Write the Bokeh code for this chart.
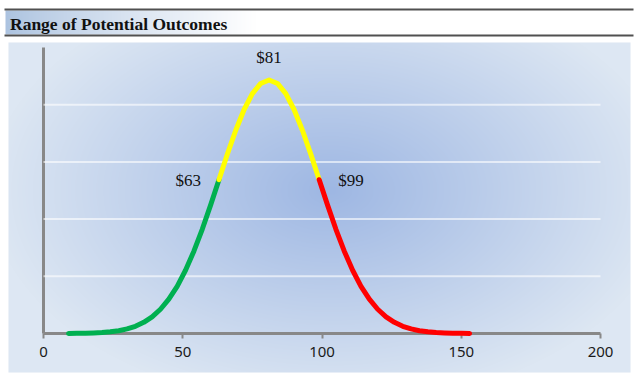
import numpy as np
from bokeh.plotting import figure
from bokeh.models import Range1d, FixedTicker
from bokeh.core.properties import value
from bokeh.embed import file_html
from bokeh.resources import INLINE

# ---------------- data ----------------
title_text = "Range of Potential Outcomes"
outcome = [9, 12, 15, 18, 21, 24, 27, 30, 33, 36, 39, 42, 45, 48, 51, 54, 57, 60,
           63, 66, 69, 72, 75, 78, 81, 84, 87, 90, 93, 96, 99, 102, 105, 108, 111,
           114, 117, 120, 123, 126, 129, 132, 135, 138, 141, 144, 147, 150, 153]
density = [0.0000074, 0.0000143, 0.0000267, 0.0000485, 0.0000857, 0.000147,
           0.000246, 0.000400, 0.000633, 0.000974, 0.001456, 0.002120, 0.003000,
           0.004127, 0.005528, 0.007196, 0.009111, 0.011221, 0.013443, 0.015661,
           0.017746, 0.019559, 0.020966, 0.021857, 0.022163, 0.021857, 0.020966,
           0.019559, 0.017746, 0.015661, 0.013443, 0.011221, 0.009111, 0.007196,
           0.005528, 0.004127, 0.003000, 0.002120, 0.001456, 0.000974, 0.000633,
           0.000400, 0.000246, 0.000147, 0.0000857, 0.0000485, 0.0000267,
           0.0000143, 0.0000074]
low_cut = 63
mid_value = 81
high_cut = 99
low_label = "$63"
mid_label = "$81"
high_label = "$99"
x_ticks = [0, 50, 100, 150, 200]
grid_levels = [0.005, 0.010, 0.015, 0.020]
y_top = 0.025

# ---------------- geometry (pixels, page coordinates) ----------------
W, H = 640, 383
PX_X = 2.785          # px per x unit
PX_Y = 11440.0        # px per y unit
X0 = 43               # px of x = 0
Y0 = 333              # px (from top) of y = 0

x_range = Range1d(-X0 / PX_X, (W - X0) / PX_X)
y_range = Range1d(-(H - Y0) / PX_Y, Y0 / PX_Y)


def fx(px):
    return x_range.start + px / PX_X


def fy(py):
    return y_range.end - py / PX_Y


p = figure(width=W, height=H, x_range=x_range, y_range=y_range,
           output_backend="svg", toolbar_location=None, min_border=0,
           background_fill_color="white", border_fill_color="white",
           outline_line_color=None)
p.grid.visible = False

# ---------- chart box radial gradient background ----------
bl, bt, bw, bh = 8, 42, 622, 330
ii, jj = np.meshgrid(np.arange(bw) + bl + 0.5, np.arange(bh) + bt + 0.5)
r = np.sqrt(((ii - 330) / 340.0) ** 2 + ((jj - 190) / 215.0) ** 2)
t = np.clip(r, 0, 1)[..., None]
c_center = np.array([158, 183, 227], dtype=float)
c_edge = np.array([221, 231, 243], dtype=float)
rgb = c_center * (1 - t) + c_edge * t
img = np.empty((bh, bw), dtype=np.uint32)
v = img.view(dtype=np.uint8).reshape((bh, bw, 4))
v[..., :3] = rgb.astype(np.uint8)
v[..., 3] = 255
img = img[::-1]
bg = p.image_rgba(image=[img], x=fx(bl), y=fy(bt + bh), dw=bw / PX_X, dh=bh / PX_Y)
bg.level = "image"

# ---------- title band gradient ----------
tl, tt, tw, th = 5, 10, 628, 24
ii2, jj2 = np.meshgrid(np.arange(tw) + 0.5, np.arange(th))
t2 = np.clip(ii2 / 250.0, 0, 1)[..., None] ** 0.85
c_left = np.array([172, 195, 224], dtype=float)
c_white = np.array([255, 255, 255], dtype=float)
rgb2 = c_left * (1 - t2) + c_white * t2
img2 = np.empty((th, tw), dtype=np.uint32)
v2 = img2.view(dtype=np.uint8).reshape((th, tw, 4))
v2[..., :3] = rgb2.astype(np.uint8)
v2[..., 3] = 255
img2 = img2[::-1]
tb = p.image_rgba(image=[img2], x=fx(tl), y=fy(tt + th), dw=tw / PX_X, dh=th / PX_Y)
tb.level = "image"

p.segment(x0=[fx(4), fx(4)], y0=[fy(9), fy(35)], x1=[fx(633), fx(633)], y1=[fy(9), fy(35)],
          line_color="#505050", line_width=2)

p.text(x=[fx(9.5)], y=[fy(23)], text=[title_text], text_baseline="middle",
       text_align="left", text_font=value("Liberation Serif"), text_font_style="bold",
       text_font_size="17.5px", text_color="#111111")

# ---------- gridlines ----------
p.segment(x0=[x_ticks[0]] * len(grid_levels), y0=grid_levels,
          x1=[x_ticks[-1]] * len(grid_levels), y1=grid_levels,
          line_color="white", line_alpha=0.6, line_width=2)

# ---------- curve ----------
xs = np.array(outcome, dtype=float)
ys = np.array(density, dtype=float)
segs = [(xs <= low_cut, "#00B050"),
        ((xs >= low_cut) & (xs <= high_cut), "#FFFF00"),
        (xs >= high_cut, "#FF0000")]
for mask, col in segs:
    p.line(xs[mask], ys[mask], line_color=col, line_width=5, line_cap="round",
           line_join="round")

# ---------- value labels ----------
d_low = density[outcome.index(low_cut)]
d_mid = density[outcome.index(mid_value)]
d_high = density[outcome.index(high_cut)]
lbl = dict(text_font=value("Liberation Serif"), text_font_size="17px",
           text_color="#111111", text_baseline="middle")
p.text(x=[mid_value], y=[d_mid], text=[mid_label], text_align="center",
       y_offset=-22, **lbl)
p.text(x=[low_cut], y=[d_low], text=[low_label], text_align="right",
       x_offset=-18, y_offset=1, **lbl)
p.text(x=[high_cut], y=[d_high], text=[high_label], text_align="left",
       x_offset=19, y_offset=1, **lbl)

# ---------- axes ----------
ax_col = "#888888"
xa = p.xaxis[0]
xa.fixed_location = 0
xa.bounds = (x_ticks[0], x_ticks[-1])
xa.ticker = FixedTicker(ticks=x_ticks)
xa.axis_line_color = ax_col
xa.axis_line_width = 3
xa.major_tick_line_color = ax_col
xa.major_tick_line_width = 2
xa.major_tick_out = 5
xa.major_tick_in = 0
xa.minor_tick_line_color = None
xa.major_label_text_font = "Noto Sans"
xa.major_label_text_font_size = "15px"
xa.major_label_text_color = "#1a1a1a"
xa.major_label_standoff = 8
xa.level = "underlay"

ya = p.yaxis[0]
ya.fixed_location = 0
ya.bounds = (0, y_top)
ya.ticker = FixedTicker(ticks=[])
ya.axis_line_color = ax_col
ya.axis_line_width = 3
ya.major_tick_line_color = None
ya.minor_tick_line_color = None
ya.major_label_text_font_size = "0px"
ya.level = "underlay"

open("out.html", "w").write(file_html(p, INLINE))
